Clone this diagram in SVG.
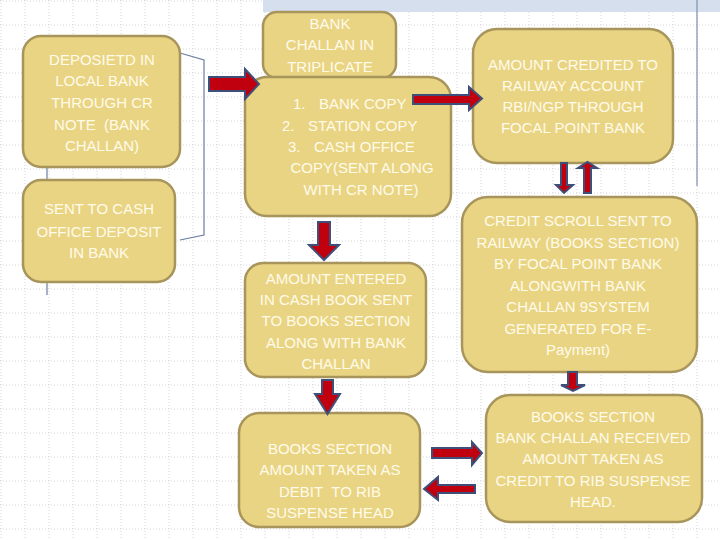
<svg xmlns="http://www.w3.org/2000/svg" width="720" height="540" viewBox="0 0 720 540">
<defs>
<pattern id="grid" x="0" y="0" width="24" height="24" patternUnits="userSpaceOnUse">
<line x1="1" y1="0" x2="1" y2="24" stroke="#d6d6d6" stroke-width="1" stroke-dasharray="1,2"/>
<line x1="0" y1="1" x2="24" y2="1" stroke="#d6d6d6" stroke-width="1" stroke-dasharray="1,2"/>
</pattern>
<style>
.box{fill:#e9d483;stroke:#a8955b;stroke-width:2.5}
.t{font-family:"Liberation Sans",Arial,sans-serif;font-size:15px;fill:#fffbea;text-anchor:middle}
.ts{font-family:"Liberation Sans",Arial,sans-serif;font-size:15px;fill:#fffbea}
.arr{fill:#c0000f;stroke:#3e5079;stroke-width:2;stroke-linejoin:miter}
.ln{fill:none;stroke:#6a7fa0;stroke-width:1.2}
</style>
</defs>
<rect width="720" height="540" fill="#ffffff"/>
<rect width="720" height="540" fill="url(#grid)"/>
<rect x="263" y="0" width="457" height="12" fill="#d6dfee"/>
<line x1="697" y1="0" x2="697" y2="186" stroke="#7d8fb5" stroke-width="1.2"/>

<g id="connectors">
<polyline class="ln" points="180,53 204,60 204,235 180,240"/>
<line class="ln" x1="47" y1="167" x2="47" y2="180"/>
<line class="ln" x1="47" y1="282" x2="47" y2="295"/>
</g>

<g id="n1">
<rect class="box" x="23" y="36" width="157" height="131" rx="18"/>
<text class="t"><tspan x="102" y="65">DEPOSIETD IN</tspan><tspan x="102" y="86">LOCAL BANK</tspan><tspan x="102" y="108">THROUGH CR</tspan><tspan x="102" y="130">NOTE&#160; (BANK</tspan><tspan x="102" y="151">CHALLAN)</tspan></text>
</g>
<g id="n2">
<rect class="box" x="23" y="180" width="152" height="102" rx="18"/>
<text class="t"><tspan x="99" y="214">SENT TO CASH</tspan><tspan x="99" y="237">OFFICE DEPOSIT</tspan><tspan x="99" y="258">IN BANK</tspan></text>
</g>
<g id="n3">
<rect class="box" x="263" y="12" width="133" height="66" rx="14"/>
<text class="t"><tspan x="330" y="29">BANK</tspan><tspan x="330" y="50">CHALLAN IN</tspan><tspan x="330" y="72">TRIPLICATE</tspan></text>
</g>
<g id="n4">
<rect class="box" x="245" y="77" width="206" height="139" rx="22"/>
<text class="ts"><tspan x="293" y="109">1.</tspan><tspan x="319" y="109">BANK COPY</tspan><tspan x="282" y="131">2.</tspan><tspan x="308" y="131">STATION COPY</tspan><tspan x="288" y="152">3.</tspan><tspan x="314" y="152">CASH OFFICE</tspan></text>
<text class="t"><tspan x="362" y="173">COPY(SENT ALONG</tspan><tspan x="361" y="195">WITH CR NOTE)</tspan></text>
</g>
<g id="n5">
<rect class="box" x="473" y="29" width="200" height="134" rx="24"/>
<text class="t"><tspan x="573" y="70">AMOUNT CREDITED TO</tspan><tspan x="573" y="91">RAILWAY ACCOUNT</tspan><tspan x="573" y="112">RBI/NGP THROUGH</tspan><tspan x="573" y="133">FOCAL POINT BANK</tspan></text>
</g>
<g id="n6">
<rect class="box" x="462" y="197" width="235" height="175" rx="26"/>
<text class="t"><tspan x="578" y="226">CREDIT SCROLL SENT TO</tspan><tspan x="578" y="248">RAILWAY (BOOKS SECTION)</tspan><tspan x="578" y="269">BY FOCAL POINT BANK</tspan><tspan x="578" y="291">ALONGWITH BANK</tspan><tspan x="578" y="312">CHALLAN 9SYSTEM</tspan><tspan x="578" y="334">GENERATED FOR E-</tspan><tspan x="578" y="355">Payment)</tspan></text>
</g>
<g id="n7">
<rect class="box" x="245" y="263" width="181" height="114" rx="18"/>
<text class="t"><tspan x="336" y="284">AMOUNT ENTERED</tspan><tspan x="336" y="305">IN CASH BOOK SENT</tspan><tspan x="336" y="326">TO BOOKS SECTION</tspan><tspan x="336" y="348">ALONG WITH BANK</tspan><tspan x="336" y="369">CHALLAN</tspan></text>
</g>
<g id="n8">
<rect class="box" x="239" y="413" width="181" height="114" rx="20"/>
<text class="t"><tspan x="330" y="454">BOOKS SECTION</tspan><tspan x="330" y="475">AMOUNT TAKEN AS</tspan><tspan x="330" y="497">DEBIT&#160; TO RIB</tspan><tspan x="330" y="518">SUSPENSE HEAD</tspan></text>
</g>
<g id="n9">
<rect class="box" x="486" y="395" width="216" height="127" rx="24"/>
<text class="t"><tspan x="593" y="422">BOOKS SECTION</tspan><tspan x="593" y="443">BANK CHALLAN RECEIVED</tspan><tspan x="593" y="464">AMOUNT TAKEN AS</tspan><tspan x="593" y="486">CREDIT TO RIB SUSPENSE</tspan><tspan x="593" y="507">HEAD.</tspan></text>
</g>

<g id="arrows">
<polygon class="arr" points="209,77 245,77 245,69 259,84 245,99 245,91 209,91"/>
<polygon class="arr" points="413,95 469,95 469,87 482,98.5 469,110 469,104 413,104"/>
<polygon class="arr" points="318,222 330,222 330,245 339,245 324,260 309,245 318,245"/>
<polygon class="arr" points="561,163 567,163 567,185 573,185 564,193 556,185 561,185"/>
<polygon class="arr" points="584,193 591,193 591,168 597,168 587.5,162 578,168 584,168"/>
<polygon class="arr" points="568,372 577,372 577,385 585,385 573,391 561,385 568,385"/>
<polygon class="arr" points="322,380 333,380 333,394 340,394 327.5,414 315,394 322,394"/>
<polygon class="arr" points="432,448 472,448 472,442 482,453 472,465 472,458 432,458"/>
<polygon class="arr" points="475,485 438,485 438,477 424,489 438,500 438,493 475,493"/>
</g>
</svg>
